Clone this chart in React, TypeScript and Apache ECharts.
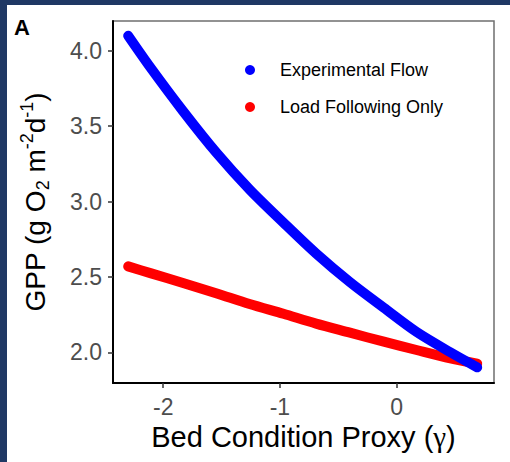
import React, { useEffect, useRef } from "react";
import * as echarts from "echarts";

const GAMMA = [-2.30, -2.11, -1.83, -1.54, -1.26, -0.97, -0.69, -0.40, -0.11, 0.17, 0.46, 0.69];
const EXPERIMENTAL_FLOW = [4.10, 3.89, 3.60, 3.32, 3.08, 2.86, 2.655, 2.465, 2.295, 2.135, 2.00, 1.90];
const LOAD_FOLLOWING = [2.57, 2.525, 2.46, 2.39, 2.32, 2.255, 2.19, 2.13, 2.07, 2.015, 1.96, 1.925];
const X_TICKS = [-2, -1, 0];
const Y_TICKS = [2.0, 2.5, 3.0, 3.5, 4.0];
const SERIES_NAMES = ["Experimental Flow", "Load Following Only"];

const FONT = "'Liberation Sans', Arial, sans-serif";

export default function App() {
  const ref = useRef<HTMLDivElement>(null);
  useEffect(() => {
    if (!ref.current) return;
    const chart = echarts.init(ref.current, undefined, { renderer: "svg" });
    const pair = (ys: number[]) => GAMMA.map((g, i) => [g, ys[i]]);
    chart.setOption({
      animation: false,
      backgroundColor: "#ffffff",
      textStyle: { fontFamily: FONT },
      grid: {
        left: 106,
        top: 16,
        right: 16,
        bottom: 79,
        show: true,
        borderColor: "#6f6f6f",
        borderWidth: 1.5,
        backgroundColor: "transparent",
      },
      legend: {
        orient: "vertical",
        left: 238,
        top: 55,
        padding: 0,
        itemGap: 17,
        itemWidth: 10,
        itemHeight: 10,
        icon: "circle",
        data: SERIES_NAMES,
        textStyle: {
          fontFamily: FONT,
          fontSize: 18,
          color: "#000000",
          lineHeight: 20,
          padding: [0, 0, 0, 20],
        },
      },
      graphic: [
        {
          type: "text",
          left: 7,
          top: 11,
          style: { text: "A", font: `bold 22px ${FONT}`, fill: "#000000" },
        },
      ],
      xAxis: {
        type: "value",
        min: -2.43,
        max: 0.834,
        name: "{m|Bed Condition Proxy (}{g|\u03b3}{m|)}",
        nameLocation: "middle",
        nameGap: 35,
        nameTextStyle: {
          rich: {
            m: { fontFamily: FONT, fontSize: 29, color: "#000", lineHeight: 34 },
            g: { fontFamily: "'Liberation Serif', serif", fontSize: 29, color: "#000", lineHeight: 34 },
          },
        },
        splitLine: { show: false },
        axisLine: { show: true, onZero: false, lineStyle: { color: "#000", width: 2 } },
        axisTick: { show: true, length: 5, customValues: X_TICKS, lineStyle: { color: "#333", width: 1.5 } },
        axisLabel: {
          customValues: X_TICKS,
          margin: 12,
          fontSize: 23,
          fontFamily: FONT,
          color: "#4d4d4d",
        },
      },
      yAxis: {
        type: "value",
        min: 1.796,
        max: 4.198,
        name: "{m|GPP (g O}{sub|2}{m| m}{sup|-2}{m|d}{sup|-1}{m|)}",
        nameLocation: "middle",
        nameRotate: 90,
        nameGap: 61,
        nameTextStyle: {
          rich: {
            m: { fontFamily: FONT, fontSize: 28, color: "#000", lineHeight: 34 },
            sub: { fontFamily: FONT, fontSize: 18, color: "#000", lineHeight: 18, verticalAlign: "bottom" },
            sup: { fontFamily: FONT, fontSize: 18, color: "#000", lineHeight: 18, verticalAlign: "top" },
          },
        },
        splitLine: { show: false },
        axisLine: { show: true, onZero: false, lineStyle: { color: "#000", width: 2 } },
        axisTick: { show: true, length: 5, customValues: Y_TICKS, lineStyle: { color: "#333", width: 1.5 } },
        axisLabel: {
          customValues: Y_TICKS,
          margin: 11,
          fontSize: 23,
          fontFamily: FONT,
          color: "#4d4d4d",
          formatter: (v: number) => v.toFixed(1),
        },
      },
      series: [
        {
          name: SERIES_NAMES[1],
          type: "line",
          smooth: 0.3,
          showSymbol: false,
          symbol: "none",
          color: "#ff0000",
          lineStyle: { color: "#ff0000", width: 10, cap: "round", join: "round" },
          data: pair(LOAD_FOLLOWING),
          z: 2,
        },
        {
          name: SERIES_NAMES[0],
          type: "line",
          smooth: 0.3,
          showSymbol: false,
          symbol: "none",
          color: "#0000ff",
          lineStyle: { color: "#0000ff", width: 10, cap: "round", join: "round" },
          data: pair(EXPERIMENTAL_FLOW),
          z: 3,
        },
      ],
    });
    return () => chart.dispose();
  }, []);

  return (
    <div
      style={{
        position: "fixed",
        left: 0,
        top: 0,
        width: 510,
        height: 462,
        background: "#1f3864",
        overflow: "hidden",
      }}
    >
      <div
        ref={ref}
        style={{
          position: "absolute",
          left: 7,
          top: 5,
          width: 503,
          height: 457,
          background: "#ffffff",
        }}
      />
    </div>
  );
}
